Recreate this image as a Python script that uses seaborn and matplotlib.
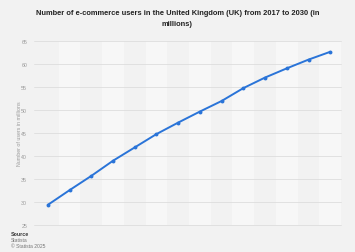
import matplotlib
matplotlib.use("Agg")
import matplotlib.pyplot as plt
import seaborn as sns
import pandas as pd

years = list(range(2017, 2031))
users = [29.3, 32.5, 35.6, 38.9, 41.8, 44.7, 47.2, 49.6, 51.9, 54.7, 57.0, 59.0, 60.9, 62.6]
y_ticks = [25, 30, 35, 40, 45, 50, 55, 60, 65]

title = "Number of e-commerce users in the United Kingdom (UK) from 2017 to 2030 (in\nmillions)"
y_label = "Number of users in millions"

sns.set_theme(style="white")
plt.rcParams['font.family'] = ['Liberation Sans', 'DejaVu Sans']

bg = "#f2f2f2"
fig = plt.figure(figsize=(3.55, 2.53), dpi=100, facecolor=bg)
ax = fig.add_axes([0.104, 0.108, 0.857, 0.727])
ax.set_facecolor(bg)

df = pd.DataFrame({"idx": list(range(len(years))), "users": users, "year": years})

for i in range(len(years)):
    if i % 2 == 1:
        ax.axvspan(i - 0.5, i + 0.5, color="#f7f7f7", zorder=0, lw=0)

for t in y_ticks:
    ax.axhline(t, xmin=-0.01, xmax=1.0, color="#dddddd", lw=0.6, zorder=1, clip_on=False)

sns.lineplot(data=df, x="idx", y="users", ax=ax, color="#2a74d8", lw=1.4,
             marker="o", markersize=2.8, markeredgewidth=0, zorder=3)

ax.set_xlim(-0.5, len(years) - 0.5)
ax.set_ylim(25, 65)
ax.set_yticks(y_ticks)
ax.set_yticklabels([str(t) for t in y_ticks], fontsize=3.8, color="#9a9a9a")
ax.tick_params(axis="y", length=0, pad=7)
ax.set_xticks([])
ax.set_xlabel("")
ax.set_ylabel(y_label, fontsize=3.8, color="#9a9a9a", labelpad=3)
ax.yaxis.set_label_coords(-0.05, 0.5)
for s in ax.spines.values():
    s.set_visible(False)

fig.text(0.5, 0.96, title, ha="center", va="top", fontsize=5.4,
         fontweight="bold", color="#222222", linespacing=1.85)

fig.text(0.031, 0.083, "Source", fontsize=3.8, fontweight="bold", color="#333333", va="top")
fig.text(0.031, 0.058, "Statista", fontsize=3.6, color="#777777", va="top")
fig.text(0.031, 0.035, "\u00a9 Statista 2025", fontsize=3.6, color="#777777", va="top")

fig.savefig("out.png", dpi=100, facecolor=bg)
